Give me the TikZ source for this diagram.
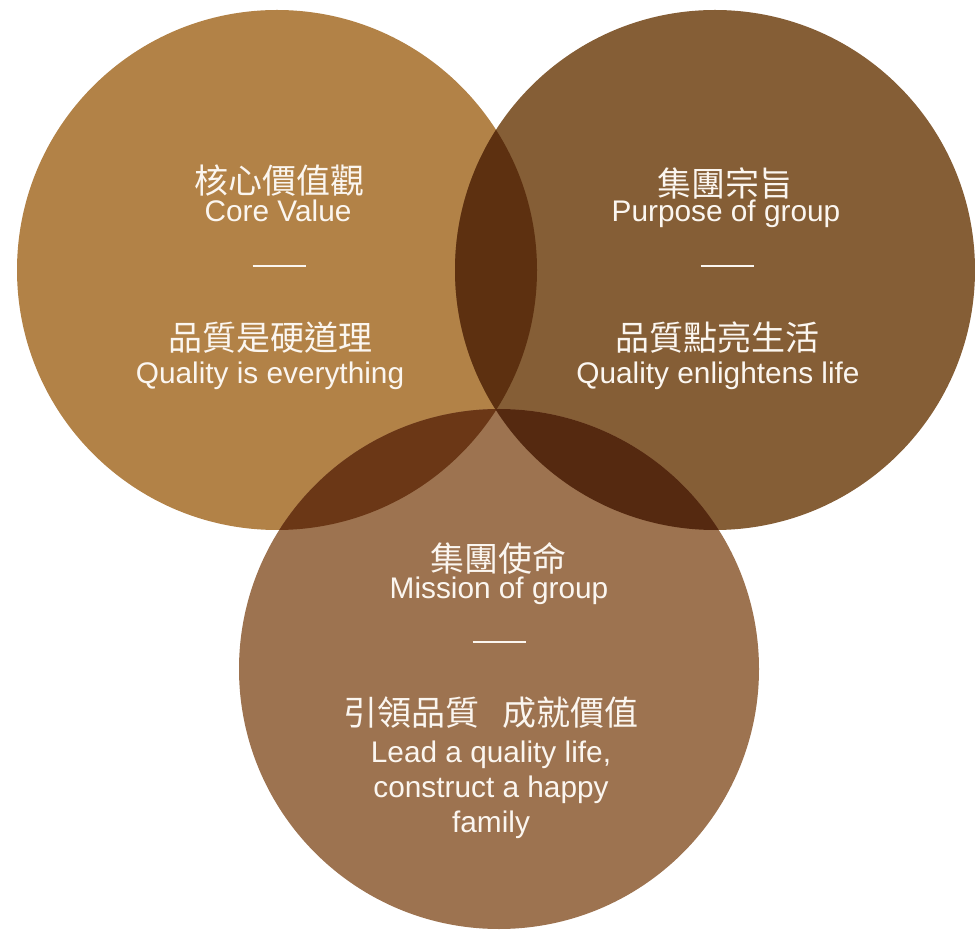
\documentclass[tikz,border=0pt]{standalone}
\usepackage{fontspec}
\setmainfont{Liberation Sans}
\newfontfamily\cjk{Noto Sans CJK TC}
\usetikzlibrary{positioning}

\definecolor{coreclr}{HTML}{B28247}
\definecolor{purposeclr}{HTML}{855E36}
\definecolor{missionclr}{HTML}{9D7350}
\definecolor{corepurpose}{HTML}{5D3010}
\definecolor{coremission}{HTML}{6B3716}
\definecolor{purposemission}{HTML}{552910}
\definecolor{txtclr}{HTML}{FBF6F0}

\begin{document}
\begin{tikzpicture}[x=0.5pt, y=-0.5pt,
	zh/.style={text=txtclr, font=\cjk\fontsize{17}{20}\selectfont, inner sep=0pt},
	en/.style={text=txtclr, font=\fontsize{14.9}{17.5}\selectfont, inner sep=0pt, align=center},
	bar/.style={draw=txtclr, line width=1pt}]
	\useasboundingbox (0,0) rectangle (975,930);
	
	\coordinate (core) at (277,270);
	\coordinate (purpose) at (715,270);
	\coordinate (mission) at (499,669);
	
	% Draw circles
	\foreach \c/\clr in {core/coreclr, purpose/purposeclr, mission/missionclr}
	\fill[\clr] (\c) circle[radius=260];
	
	% Draw overlaps
	\begin{scope}
		\clip (core) circle[radius=260];
		\fill[corepurpose] (purpose) circle[radius=260];
		\fill[coremission] (mission) circle[radius=260];
	\end{scope}
	\begin{scope}
		\clip (purpose) circle[radius=260];
		\fill[purposemission] (mission) circle[radius=260];
	\end{scope}
	
	% Core value
	\node[zh] (coreZh) at (279,181) {核心價值觀};
	\node[en, anchor=base] (coreEn) at (278,222) {Core Value};
	\node[zh] (coreMottoZh) at (270,338) {品質是硬道理};
	\node[en, anchor=base] (coreMottoEn) at (270,384) {Quality is everything};
	
	% Purpose of group
	\node[zh] (purposeZh) at (725,183) {集團宗旨};
	\node[en, anchor=base] (purposeEn) at (726,222) {Purpose of group};
	\node[zh] (purposeMottoZh) at (717,338) {品質點亮生活};
	\node[en, anchor=base] (purposeMottoEn) at (718,384) {Quality enlightens life};
	
	% Mission of group
	\node[zh] (missionZh) at (498,558) {集團使命};
	\node[en, anchor=base] (missionEn) at (499,598) {Mission of group};
	\node[zh] (missionMottoZh) at (491,713) {引領品質\hspace{0.7em}成就價值};
	\node[en] (missionMottoEn) at (491,790) {Lead a quality life,\\ construct a happy\\ family};
	
	% Draw bars
	\foreach \x/\y in {279/266, 727/266, 499/642}
	\draw[bar] (\x-26.5,\y) -- (\x+26.5,\y);
	
\end{tikzpicture}
\end{document}
